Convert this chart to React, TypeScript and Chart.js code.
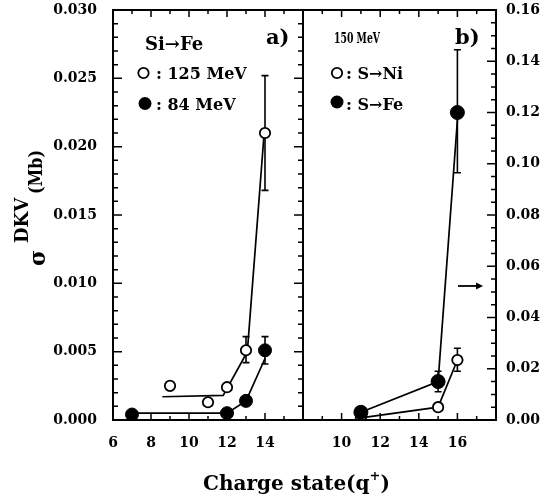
import React, { useEffect, useRef } from 'react';
import { Chart, registerables } from 'chart.js';
Chart.register(...registerables);

const FONT = '"DejaVu Serif", "Liberation Serif", serif';

// ---------- Panel a) Si -> Fe ----------
const chargeA125 = [9, 11, 12, 13, 14];
const sigmaA125 = [0.0025, 0.0013, 0.0024, 0.0051, 0.021];
const errLowA125 = [null, null, null, 0.0042, 0.0168];
const errHighA125 = [null, null, null, 0.0061, 0.0252];

const chargeA84 = [7, 12, 13, 14];
const sigmaA84 = [0.0004, 0.0005, 0.0014, 0.0051];
const errLowA84 = [null, null, null, 0.0041];
const errHighA84 = [null, null, null, 0.0061];

const fitChargeA125 = [8.6, 11.8, 13.07, 13.95];
const fitSigmaA125 = [0.0017, 0.0018, 0.005, 0.0209];
const fitChargeA84 = [7, 12, 13, 14];
const fitSigmaA84 = [0.0005, 0.0005, 0.0014, 0.0045];

// ---------- Panel b) 150 MeV ----------
const chargeBNi = [11, 15, 16];
const sigmaBNi = [0.0008, 0.005, 0.0234];
const errLowBNi = [null, null, 0.019];
const errHighBNi = [null, null, 0.028];

const chargeBFe = [11, 15, 16];
const sigmaBFe = [0.003, 0.015, 0.12];
const errLowBFe = [null, 0.011, 0.0965];
const errHighBFe = [null, 0.019, 0.1445];

const fitChargeBNi = [11, 15, 16];
const fitSigmaBNi = [0.0008, 0.005, 0.0234];
const fitChargeBFe = [11, 15, 16];
const fitSigmaBFe = [0.003, 0.015, 0.117];

// ---------- tick labels ----------
const xLabelsA = [6, 8, 10, 12, 14];
const xLabelsB = [10, 12, 14, 16];
const yLabelsA = ['0.000', '0.005', '0.010', '0.015', '0.020', '0.025', '0.030'];
const yLabelsB = ['0.00', '0.02', '0.04', '0.06', '0.08', '0.10', '0.12', '0.14', '0.16'];

const arrowCharge = [16.03, 17.33];
const arrowSigma = 0.0523;

const pts = (xs: number[], ys: number[]) => xs.map((x, i) => ({ x, y: ys[i] }));

function drawErr(ctx: CanvasRenderingContext2D, xs: number[], lo: (number | null)[], hi: (number | null)[], xs_: any, ys_: any) {
  ctx.save();
  ctx.strokeStyle = '#000';
  ctx.lineWidth = 1.6;
  xs.forEach((x, i) => {
    const l = lo[i], h = hi[i];
    if (l == null || h == null) return;
    const px = xs_.getPixelForValue(x);
    const y1 = ys_.getPixelForValue(l);
    const y2 = ys_.getPixelForValue(h);
    ctx.beginPath();
    ctx.moveTo(px, y1); ctx.lineTo(px, y2);
    ctx.moveTo(px - 3.5, y1); ctx.lineTo(px + 3.5, y1);
    ctx.moveTo(px - 3.5, y2); ctx.lineTo(px + 3.5, y2);
    ctx.stroke();
  });
  ctx.restore();
}

function drawXTicks(ctx: CanvasRenderingContext2D, sc: any, area: any, min: number, max: number) {
  ctx.save();
  ctx.strokeStyle = '#000';
  ctx.lineWidth = 1.5;
  ctx.beginPath();
  for (let v = min; v <= max; v++) {
    const px = sc.getPixelForValue(v);
    const len = (v - min) % 2 === 0 ? 7 : 4;
    ctx.moveTo(px, area.bottom); ctx.lineTo(px, area.bottom - len);
    ctx.moveTo(px, area.top); ctx.lineTo(px, area.top + len);
  }
  ctx.stroke();
  ctx.restore();
}

function drawYTicks(ctx: CanvasRenderingContext2D, sc: any, area: any, step: number, count: number, majorEvery: number, left: boolean, right: boolean) {
  ctx.save();
  ctx.strokeStyle = '#000';
  ctx.lineWidth = 1.5;
  ctx.beginPath();
  for (let k = 0; k <= count; k++) {
    const py = sc.getPixelForValue(k * step);
    const len = k % majorEvery === 0 ? 9 : 5;
    if (left) { ctx.moveTo(area.left, py); ctx.lineTo(area.left + len, py); }
    if (right) { ctx.moveTo(area.right, py); ctx.lineTo(area.right - len, py); }
  }
  ctx.stroke();
  ctx.restore();
}

function frame(ctx: CanvasRenderingContext2D, area: any) {
  ctx.save();
  ctx.strokeStyle = '#000';
  ctx.lineWidth = 2;
  ctx.strokeRect(area.left, area.top, area.right - area.left, area.bottom - area.top);
  ctx.restore();
}

function circle(ctx: CanvasRenderingContext2D, x: number, y: number, r: number, filled: boolean) {
  ctx.save();
  ctx.beginPath();
  ctx.arc(x, y, r, 0, Math.PI * 2);
  if (filled) { ctx.fillStyle = '#000'; ctx.fill(); }
  else { ctx.fillStyle = '#fff'; ctx.fill(); ctx.lineWidth = 1.8; ctx.strokeStyle = '#000'; ctx.stroke(); }
  ctx.restore();
}

function text(ctx: CanvasRenderingContext2D, s: string, x: number, y: number, size: number, maxW?: number) {
  ctx.save();
  ctx.font = `bold ${size}px ${FONT}`;
  ctx.fillStyle = '#000';
  ctx.textAlign = 'left';
  ctx.textBaseline = 'alphabetic';
  if (maxW) ctx.fillText(s, x, y, maxW); else ctx.fillText(s, x, y);
  ctx.restore();
}

const lineDs = (label: string, xs: number[], ys: number[], order: number) => ({
  label, data: pts(xs, ys), showLine: true, borderColor: '#000', borderWidth: 1.7,
  pointRadius: 0, fill: false, order,
});
const ptDs = (label: string, xs: number[], ys: number[], filled: boolean, r: number, order: number) => ({
  label, data: pts(xs, ys), showLine: false, pointStyle: 'circle', pointRadius: r,
  pointBackgroundColor: filled ? '#000' : '#fff', pointBorderColor: '#000',
  pointBorderWidth: filled ? 1 : 1.8, order,
});

const tickFont = { size: 14, weight: 'bold' as const, family: FONT };

const fitY = (w: number) => (s: any) => { s.width = w; s.paddingTop = 0; s.paddingBottom = 0; };
const fitX = (h: number) => (s: any) => { s.height = h; s.paddingLeft = 0; s.paddingRight = 0; };

export default function App() {
  const refA = useRef<HTMLCanvasElement>(null);
  const refB = useRef<HTMLCanvasElement>(null);

  useEffect(() => {
    document.body.style.margin = '0';
    Chart.defaults.color = '#000';

    const decoA = {
      id: 'decoA',
      beforeDatasetsDraw(chart: any) {
        const { ctx, scales } = chart;
        drawErr(ctx, chargeA125, errLowA125, errHighA125, scales.x, scales.y);
        drawErr(ctx, chargeA84, errLowA84, errHighA84, scales.x, scales.y);
      },
      afterDraw(chart: any) {
        const { ctx, chartArea: a, scales } = chart;
        frame(ctx, a);
        drawXTicks(ctx, scales.x, a, 6, 16);
        drawYTicks(ctx, scales.y, a, 0.001, 30, 5, true, true);
        // legend
        text(ctx, 'Si\u2192Fe', 145, 50, 18);
        circle(ctx, 143.5, 73, 5.2, false);
        text(ctx, ': 125 MeV', 156, 79, 16);
        circle(ctx, 145, 103.5, 6.5, true);
        text(ctx, ': 84 MeV', 156, 110, 16);
        text(ctx, 'a)', 266, 44, 21);
        // x title
        ctx.save();
        ctx.fillStyle = '#000';
        ctx.textBaseline = 'alphabetic';
        ctx.font = `bold 20px ${FONT}`;
        const t1 = 'Charge state(q';
        const w1 = ctx.measureText(t1).width;
        ctx.font = `bold 13px ${FONT}`;
        const w2 = ctx.measureText('+').width;
        ctx.font = `bold 20px ${FONT}`;
        const w3 = ctx.measureText(')').width;
        const x0 = 296.5 - (w1 + w2 + w3) / 2;
        ctx.fillText(t1, x0, 490);
        ctx.font = `bold 13px ${FONT}`;
        ctx.fillText('+', x0 + w1, 480);
        ctx.font = `bold 20px ${FONT}`;
        ctx.fillText(')', x0 + w1 + w2, 490);
        ctx.restore();
        // y title
        ctx.save();
        ctx.fillStyle = '#000';
        ctx.textBaseline = 'alphabetic';
        ctx.translate(45, 266);
        ctx.rotate(-Math.PI / 2);
        ctx.font = `bold 22px ${FONT}`;
        ctx.fillText('\u03c3', 0, 0);
        ctx.font = `bold 18px ${FONT}`;
        ctx.fillText('DKV', 23, -17, 46);
        ctx.font = `bold 18px ${FONT}`;
        ctx.fillText('(Mb)', 72, -3, 44);
        ctx.restore();
      },
    };

    const decoB = {
      id: 'decoB',
      beforeDatasetsDraw(chart: any) {
        const { ctx, scales } = chart;
        drawErr(ctx, chargeBNi, errLowBNi, errHighBNi, scales.x, scales.y);
        drawErr(ctx, chargeBFe, errLowBFe, errHighBFe, scales.x, scales.y);
      },
      afterDraw(chart: any) {
        const { ctx, chartArea: a, scales } = chart;
        frame(ctx, a);
        drawXTicks(ctx, scales.x, a, 8, 18);
        drawYTicks(ctx, scales.y, a, 0.005, 32, 4, false, true);
        text(ctx, '150 MeV', 334, 43, 15, 46);
        text(ctx, 'b)', 455, 44, 21);
        circle(ctx, 337, 73, 5.2, false);
        text(ctx, ': S\u2192Ni', 346, 79, 16, 64);
        circle(ctx, 337, 102, 6.5, true);
        text(ctx, ': S\u2192Fe', 346, 110, 16, 64);
        // arrow
        const x1 = scales.x.getPixelForValue(arrowCharge[0]);
        const x2 = scales.x.getPixelForValue(arrowCharge[1]);
        const y = scales.y.getPixelForValue(arrowSigma);
        ctx.save();
        ctx.strokeStyle = '#000';
        ctx.fillStyle = '#000';
        ctx.lineWidth = 1.8;
        ctx.beginPath(); ctx.moveTo(x1, y); ctx.lineTo(x2 - 4, y); ctx.stroke();
        ctx.beginPath(); ctx.moveTo(x2, y); ctx.lineTo(x2 - 7, y - 3.5); ctx.lineTo(x2 - 7, y + 3.5); ctx.closePath(); ctx.fill();
        ctx.restore();
      },
    };

    const common = {
      responsive: false,
      animation: false as const,
      events: [] as any[],
      plugins: { legend: { display: false }, tooltip: { enabled: false } },
    };

    const chartA = new Chart(refA.current!, {
      type: 'scatter',
      data: {
        datasets: [
          ptDs('125 MeV', chargeA125, sigmaA125, false, 5.2, 0),
          ptDs('84 MeV', chargeA84, sigmaA84, true, 6.5, 1),
          lineDs('fit 125', fitChargeA125, fitSigmaA125, 2),
          lineDs('fit 84', fitChargeA84, fitSigmaA84, 3),
        ] as any,
      },
      options: {
        ...common,
        layout: { padding: { left: 0, top: 10, right: 552 - 303, bottom: 0 } },
        scales: {
          x: {
            type: 'linear', min: 6, max: 16, position: 'bottom',
            afterFit: fitX(83),
            grid: { display: false, drawTicks: false }, border: { display: false },
            ticks: {
              stepSize: 2, autoSkip: false, maxRotation: 0, padding: 15, font: tickFont, color: '#000',
              callback: (v: any) => (xLabelsA.includes(Number(v)) ? String(v) : ''),
            },
          },
          y: {
            type: 'linear', min: 0, max: 0.03, position: 'left',
            afterFit: fitY(113),
            grid: { display: false, drawTicks: false }, border: { display: false },
            ticks: {
              stepSize: 0.005, autoSkip: false, padding: 16, font: tickFont, color: '#000',
              callback: (v: any) => { const s = Number(v).toFixed(3); return yLabelsA.includes(s) ? s : ''; },
            },
          },
        },
      } as any,
      plugins: [decoA],
    });

    const chartB = new Chart(refB.current!, {
      type: 'scatter',
      data: {
        datasets: [
          ptDs('S-Fe', chargeBFe, sigmaBFe, true, 7, 0),
          ptDs('S-Ni', chargeBNi, sigmaBNi, false, 5.2, 1),
          lineDs('fit S-Ni', fitChargeBNi, fitSigmaBNi, 2),
          lineDs('fit S-Fe', fitChargeBFe, fitSigmaBFe, 3),
        ] as any,
      },
      options: {
        ...common,
        layout: { padding: { left: 303, top: 10, right: 0, bottom: 0 } },
        scales: {
          x: {
            type: 'linear', min: 8, max: 18, position: 'bottom',
            afterFit: fitX(83),
            grid: { display: false, drawTicks: false }, border: { display: false },
            ticks: {
              stepSize: 2, autoSkip: false, maxRotation: 0, padding: 15, font: tickFont, color: '#000',
              callback: (v: any) => (xLabelsB.includes(Number(v)) ? String(v) : ''),
            },
          },
          y: {
            type: 'linear', min: 0, max: 0.16, position: 'right',
            afterFit: fitY(552 - 496),
            grid: { display: false, drawTicks: false }, border: { display: false },
            ticks: {
              stepSize: 0.02, autoSkip: false, padding: 10, font: tickFont, color: '#000',
              callback: (v: any) => { const s = Number(v).toFixed(2); return yLabelsB.includes(s) ? s : ''; },
            },
          },
        },
      } as any,
      plugins: [decoB],
    });

    return () => { chartA.destroy(); chartB.destroy(); };
  }, []);

  return (
    <div style={{ position: 'relative', width: 552, height: 503, background: '#fff' }}>
      <canvas ref={refA} width={552} height={503} style={{ position: 'absolute', left: 0, top: 0 }} />
      <canvas ref={refB} width={552} height={503} style={{ position: 'absolute', left: 0, top: 0 }} />
    </div>
  );
}
